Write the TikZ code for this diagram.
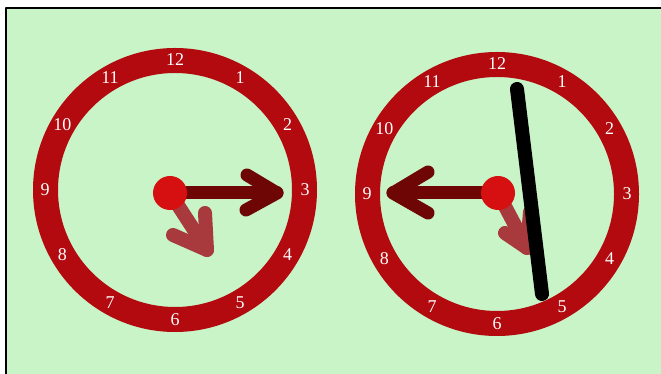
\documentclass[tikz,border=0pt]{standalone}
\usepackage{fontspec}
\setmainfont{Liberation Serif}
\usetikzlibrary{calc}
\definecolor{bggreen}{RGB}{200,244,200}
\definecolor{ringred}{RGB}{178,10,14}
\definecolor{hubred}{RGB}{214,16,16}
\definecolor{minred}{RGB}{110,6,6}
\definecolor{hourred}{RGB}{168,58,62}
\begin{document}
\begin{tikzpicture}[x=1pt,y=1pt,line join=round,
  ring/.style={draw=ringred,line width=25pt},
  numlbl/.style={text=white,font=\fontsize{18}{18}\selectfont,inner sep=0pt},
  hub/.style={circle,fill=hubred,minimum size=34pt,inner sep=0pt},
  mhand/.style={minred,line width=13pt,line cap=round},
  hhand/.style={hourred,line width=14pt,line cap=round},
  pen/.style={black,line width=14pt,line cap=round}]
  \useasboundingbox (0,0) rectangle (661,374);
  % --- background frame, open at right and bottom ---
  \fill[bggreen] (6,0) rectangle (661,366);
  \draw[black,line width=2pt] (6,0) -- (6,366) -- (661,366);
  % --- left clock: quarter past ---
  \coordinate (cL) at (175,184);
  \draw[ring] (cL) circle (129.5);
  \foreach \i in {1,...,12}
    \node[numlbl] (nL\i) at ($(cL)+(90-30*\i:130)$) {\i};
  \coordinate (htipL) at (207,124);
  \coordinate (hwingLa) at (173,139);
  \coordinate (hwingLb) at (205,161);
  \draw[hhand] (170,181) -- (htipL);
  \draw[hhand] (hwingLa) -- (htipL) -- (hwingLb);
  \coordinate (mtipL) at (277,181);
  \coordinate (mwingLa) at (247,199);
  \coordinate (mwingLb) at (246,164);
  \draw[mhand] (170,181) -- (mtipL);
  \draw[mhand] (mwingLa) -- (mtipL) -- (mwingLb);
  \node[hub] (hubL) at (170,181) {};
  % --- right clock: quarter to, with the stroke over it ---
  \coordinate (cR) at (497,180);
  \draw[ring] (cR) circle (129.5);
  \foreach \i in {1,...,12}
    \node[numlbl] (nR\i) at ($(cR)+(90-30*\i:130)$) {\i};
  \coordinate (htipR) at (527,126);
  \coordinate (hwingRa) at (505,141);
  \coordinate (hwingRb) at (530,162);
  \draw[hhand] (498,181) -- (htipR);
  \draw[hhand] (hwingRa) -- (htipR) -- (hwingRb);
  \coordinate (mtipR) at (393,181);
  \coordinate (mwingRa) at (428,202);
  \coordinate (mwingRb) at (428,161);
  \draw[mhand] (498,181) -- (mtipR);
  \draw[mhand] (mwingRa) -- (mtipR) -- (mwingRb);
  \node[hub] (hubR) at (498,181) {};
  % long black stroke
  \coordinate (penA) at (517,285);
  \coordinate (penB) at (542,80);
  \draw[pen] (penA) -- (penB);
\end{tikzpicture}
\end{document}
